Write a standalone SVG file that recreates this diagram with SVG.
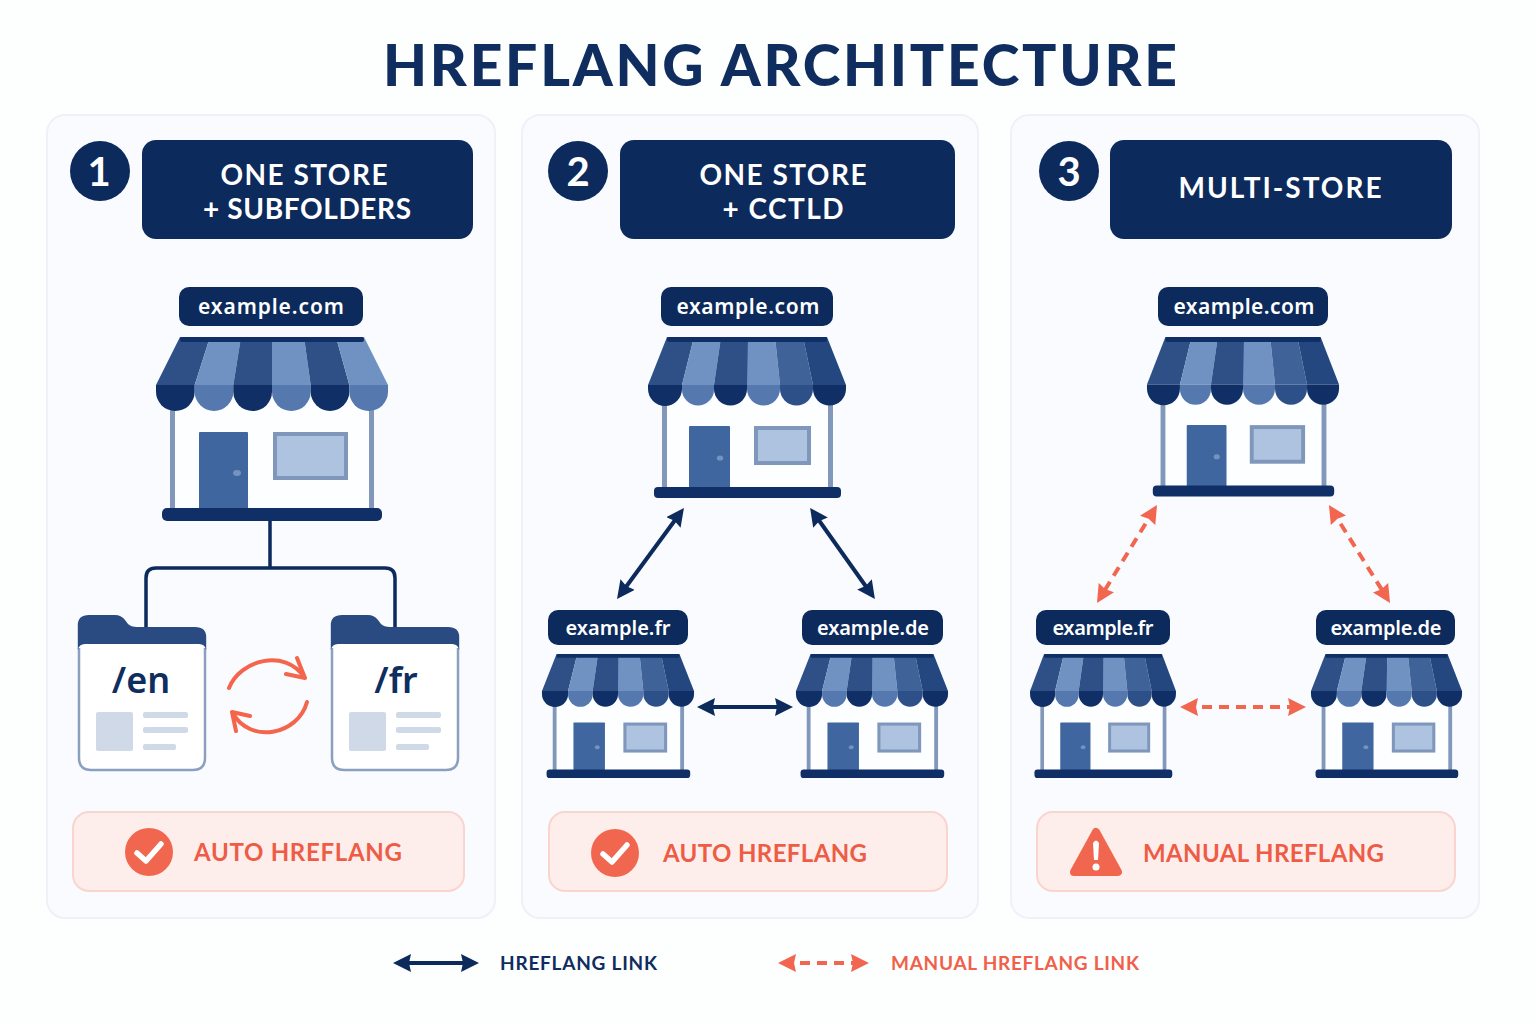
<svg xmlns="http://www.w3.org/2000/svg" xmlns:xlink="http://www.w3.org/1999/xlink" width="1536" height="1024" viewBox="0 0 1536 1024">
<style>
text{font-family:"Noto Sans","Liberation Sans",sans-serif}
.lato{font-family:Lato,"Noto Sans",sans-serif}
.panel{fill:#f9fbfe;stroke:#edf1f8;stroke-width:2}
.navy{fill:#0c2a5b}
.head{fill:#fff;font-size:28px;font-weight:700;text-anchor:middle}
.num{fill:#fff;font-size:40px;font-weight:700;text-anchor:middle}
.url{fill:#fff;font-size:21px;font-weight:600;text-anchor:middle}
.url2{fill:#fff;font-size:20px;font-weight:600;text-anchor:middle}
.ban{fill:#fdeeec;stroke:#fad5cf;stroke-width:2}
.bt{fill:#ee5c45;font-size:24px;font-weight:700}
.lg{font-size:19px;font-weight:700}
.sd{fill:#2f5087}.sl{fill:#7092c2}.sm{fill:#3f6399}.se{fill:#24477f}
.cd{fill:#0f2f66}.cl{fill:#5578ae}.cm{fill:#2d5088}
.post{fill:#8298ba}.base{fill:#0f2f66}.door{fill:#3f669f}.knob{fill:#7593bf}
.body{fill:#fdfeff}
.win{fill:#aec3e0;stroke:#7f97bb;stroke-width:4}
.folder{fill:#fff;stroke:#8ba0bf;stroke-width:2.5}
.ftab{fill:#2a4a82}
.thumb{fill:#d0d9e7}
.tree{fill:none;stroke:#0c2a5b;stroke-width:3.5}
.dark{stroke:#0c2a5b;stroke-width:4;fill:none;marker-start:url(#ah);marker-end:url(#ah)}
.red{stroke:#f26650;stroke-width:4;fill:none;stroke-dasharray:10 7;marker-start:url(#ar);marker-end:url(#ar)}
.sync{fill:none;stroke:#f4654c;stroke-width:4;stroke-linecap:round;stroke-linejoin:round}
.ico{fill:#f1664f}
</style>
<defs>
<marker id="ah" viewBox="0 0 18 18" refX="13" refY="9" markerWidth="18" markerHeight="18" markerUnits="userSpaceOnUse" orient="auto-start-reverse"><path d="M0 0L18 9L0 18L2 9Z" fill="#0c2a5b"/></marker>
<marker id="ar" viewBox="0 0 18 18" refX="13" refY="9" markerWidth="18" markerHeight="18" markerUnits="userSpaceOnUse" orient="auto-start-reverse"><path d="M0 0L18 9L0 18L2 9Z" fill="#f26650"/></marker>
<g id="storeA">
<rect class="body" x="-97" y="60" width="194" height="114"/>
<rect class="post" x="-102" y="70" width="5" height="104"/><rect class="post" x="97" y="70" width="5" height="104"/>
<rect class="door" x="-73" y="95" width="49" height="78" rx="1"/><ellipse class="knob" cx="-35" cy="136" rx="4" ry="3"/>
<rect class="win" x="3" y="97" width="71" height="44"/>
<rect class="base" x="-110" y="171" width="220" height="13" rx="5"/>
<path class="sd" d="M-92 0H-62L-77.3 48H-116Z"/><path class="sl" d="M-62 0H-31L-38.7 48H-77.3Z"/><path class="sd" d="M-31 0H0V48H-38.7Z"/><path class="sl" d="M0 0H32L38.7 48H0Z"/><path class="sd" d="M32 0H64L77.3 48H38.7Z"/><path class="sl" d="M64 0H92L116 48H77.3Z"/>
<rect class="base" x="-92" y="0" width="184" height="5" rx="2"/>
<path class="cd" d="M-116 48V54.7A19.33 19.33 0 0 0-77.3 54.7V48Z"/><path class="cl" d="M-77.3 48V54.7A19.3 19.3 0 0 0-38.7 54.7V48Z"/><path class="cd" d="M-38.7 48V54.7A19.35 19.35 0 0 0 0 54.7V48Z"/><path class="cl" d="M0 48V54.7A19.35 19.35 0 0 0 38.7 54.7V48Z"/><path class="cd" d="M38.7 48V54.7A19.3 19.3 0 0 0 77.3 54.7V48Z"/><path class="cl" d="M77.3 48V54.7A19.35 19.35 0 0 0 116 54.7V48Z"/>
</g>
<g id="storeB">
<rect class="body" x="-83" y="55" width="167" height="97"/>
<rect class="post" x="-85" y="60" width="5" height="92"/><rect class="post" x="81" y="60" width="5" height="92"/>
<rect class="door" x="-58" y="89" width="41" height="62" rx="1"/><ellipse class="knob" cx="-27" cy="121" rx="3.2" ry="2.6"/>
<rect class="win" x="9" y="91" width="53" height="35"/>
<rect class="base" x="-93" y="150" width="187" height="11" rx="4"/>
<path class="sd" d="M-80 0H-53L-65 48H-99Z"/><path class="sl" d="M-53 0H-26L-33 48H-65Z"/><path class="sd" d="M-26 0H1V48H-33Z"/><path class="sl" d="M1 0H28L33 48H0Z"/><path class="sm" d="M28 0H56L66 48H33Z"/><path class="se" d="M56 0H80L99 48H66Z"/>
<rect class="base" x="-80" y="0" width="160" height="5" rx="2"/>
<path class="cd" d="M-99 48V52A17 17 0 0 0-65 52V48Z"/><path class="cl" d="M-65 48V52.500A16 16 0 0 0-33 52.500V48Z"/><path class="cd" d="M-33 48V52A16.500 16.500 0 0 0 0 52V48Z"/><path class="cl" d="M0 48V52A16.500 16.500 0 0 0 33 52V48Z"/><path class="cm" d="M33 48V52A16.500 16.500 0 0 0 66 52V48Z"/><path class="cd" d="M66 48V52A16.500 16.500 0 0 0 99 52V48Z"/>
</g>
<g id="folder">
<rect x="2" y="26" width="122" height="12" fill="#fff"/>
<path class="folder" d="M126 33V143Q126 155 114 155H12Q0 155 0 143V33"/>
<path class="ftab" d="M-1.200 35V10Q-1.200 0 10 0H36Q42 0 46 5L49 9Q52 12 58 12H116Q127.200 12 127.200 22V35Q126 29 120 29H6Q0 29 -1.200 35Z"/>
<rect class="thumb" x="17" y="97" width="37" height="39" rx="2"/>
<rect class="thumb" x="64" y="97" width="45" height="6" rx="2"/><rect class="thumb" x="64" y="112" width="45" height="6" rx="2"/><rect class="thumb" x="64" y="129" width="33" height="6" rx="2"/>
</g>
</defs>
<rect width="1536" height="1024" fill="#fdfefe"/>
<text id="title" class="lato" x="780" y="86" text-anchor="middle" font-size="57" font-weight="900" fill="#0f2d5e" textLength="794" lengthAdjust="spacing">HREFLANG ARCHITECTURE</text>
<g id="panels">
<rect class="panel" x="47" y="115" width="448" height="803" rx="18"/>
<rect class="panel" x="522" y="115" width="456" height="803" rx="18"/>
<rect class="panel" x="1011" y="115" width="468" height="803" rx="18"/>
</g>
<g id="header-1"><circle class="navy" cx="100" cy="171" r="30"/><text class="num lato" x="99" y="186">1</text><rect class="navy" x="142" y="140" width="331" height="99" rx="14"/><text class="head lato" x="304" y="184.500" textLength="167">ONE STORE</text><text class="head lato" x="307" y="218.500" textLength="208">+ SUBFOLDERS</text></g>
<g id="header-2"><circle class="navy" cx="578" cy="171" r="30"/><text class="num lato" x="578" y="186">2</text><rect class="navy" x="620" y="140" width="335" height="99" rx="14"/><text class="head lato" x="783" y="184.500" textLength="167">ONE STORE</text><text class="head lato" x="783" y="218.500" textLength="121">+ CCTLD</text></g>
<g id="header-3"><circle class="navy" cx="1069" cy="171" r="30"/><text class="num lato" x="1069" y="186">3</text><rect class="navy" x="1110" y="140" width="342" height="99" rx="14"/><text class="head lato" x="1280" y="197.500" textLength="203">MULTI-STORE</text></g>
<g id="connectors">
<path class="tree" d="M270 521V568M146 627V578Q146 568 156 568H385Q395 568 395 578V627"/>
<path class="sync" d="M229 688C240 660 285 648 304 677M297 658L305 678L286 674"/>
<path class="sync" d="M307 702C298 735 250 745 232 712M250 716L232 712L236 731"/>
<line class="dark" x1="681" y1="512" x2="620" y2="595"/>
<line class="dark" x1="813" y1="512" x2="872" y2="595"/>
<line class="dark" x1="702" y1="707" x2="788" y2="707"/>
<line class="red" x1="1154.400" y1="509.300" x2="1099.600" y2="598.700"/>
<line class="red" x1="1331.600" y1="509.300" x2="1387.400" y2="598.700"/>
<line class="red" x1="1185" y1="707" x2="1301" y2="707"/>
</g>
<g id="store-1-main"><rect class="navy" x="179" y="287" width="184" height="39" rx="10"/><text class="url" x="271" y="314" textLength="146">example.com</text><use xlink:href="#storeA" href="#storeA" transform="translate(272 337)"/></g>
<g id="folder-en"><use xlink:href="#folder" href="#folder" transform="translate(79 615)"/><text x="141" y="693" font-size="36" font-weight="600" fill="#0f2d5e" text-anchor="middle">/en</text></g>
<g id="folder-fr"><use xlink:href="#folder" href="#folder" transform="translate(332 615)"/><text x="396" y="693" font-size="36" font-weight="600" fill="#0f2d5e" text-anchor="middle">/fr</text></g>
<g id="store-2-main"><rect class="navy" x="661" y="287" width="172" height="39" rx="10"/><text class="url" x="748" y="314" textLength="143">example.com</text><use xlink:href="#storeB" href="#storeB" transform="translate(747 337)"/></g>
<g id="store-2-fr"><rect class="navy" x="548" y="610" width="140" height="35" rx="10"/><text class="url2" x="618" y="635" textLength="105">example.fr</text><use xlink:href="#storeB" href="#storeB" transform="translate(618 654) scale(.768 .77)"/></g>
<g id="store-2-de"><rect class="navy" x="802" y="610" width="141" height="35" rx="10"/><text class="url2" x="873" y="635" textLength="112">example.de</text><use xlink:href="#storeB" href="#storeB" transform="translate(872 654) scale(.768 .77)"/></g>
<g id="store-3-main"><rect class="navy" x="1158" y="287" width="170" height="39" rx="10"/><text class="url" x="1244" y="314" textLength="141">example.com</text><use xlink:href="#storeB" href="#storeB" transform="translate(1243 337) scale(.97 .99)"/></g>
<g id="store-3-fr"><rect class="navy" x="1036" y="610" width="134" height="35" rx="10"/><text class="url2" x="1103" y="635" textLength="101">example.fr</text><use xlink:href="#storeB" href="#storeB" transform="translate(1103 654) scale(.737 .77)"/></g>
<g id="store-3-de"><rect class="navy" x="1316" y="610" width="139" height="35" rx="10"/><text class="url2" x="1386" y="635" textLength="111">example.de</text><use xlink:href="#storeB" href="#storeB" transform="translate(1386.5 654) scale(.763 .77)"/></g>
<g id="badge-1"><rect class="ban" x="73" y="812" width="391" height="79" rx="16"/><circle class="ico" cx="149" cy="852" r="24"/><path d="M137 853L146 861L161 844" fill="none" stroke="#fff" stroke-width="5.500" stroke-linecap="round" stroke-linejoin="round"/><text class="bt lato" x="194" y="861" textLength="208">AUTO HREFLANG</text></g>
<g id="badge-2"><rect class="ban" x="549" y="812" width="398" height="79" rx="16"/><circle class="ico" cx="615" cy="853" r="24"/><path d="M603 854L612 862L627 845" fill="none" stroke="#fff" stroke-width="5.500" stroke-linecap="round" stroke-linejoin="round"/><text class="bt lato" x="663" y="862" textLength="204">AUTO HREFLANG</text></g>
<g id="badge-3"><rect class="ban" x="1037" y="812" width="418" height="79" rx="16"/><path class="ico" d="M1096 832L1118 872H1074Z" stroke="#f1664f" stroke-width="8" stroke-linejoin="round"/><path d="M1093 843Q1096 838 1099 843L1098 860H1094Z" fill="#fff"/><circle cx="1096" cy="867" r="3.500" fill="#fff"/><text class="bt lato" x="1143" y="862" textLength="241">MANUAL HREFLANG</text></g>
<g id="legend">
<line class="dark" x1="398" y1="963" x2="474" y2="963"/>
<text class="lg lato" x="500" y="970" fill="#0f2d5e" textLength="157" lengthAdjust="spacing">HREFLANG LINK</text>
<line class="red" x1="783" y1="963" x2="864" y2="963"/>
<text class="lg lato" x="891" y="970" fill="#f0604a" textLength="248" lengthAdjust="spacing">MANUAL HREFLANG LINK</text>
</g>
</svg>
